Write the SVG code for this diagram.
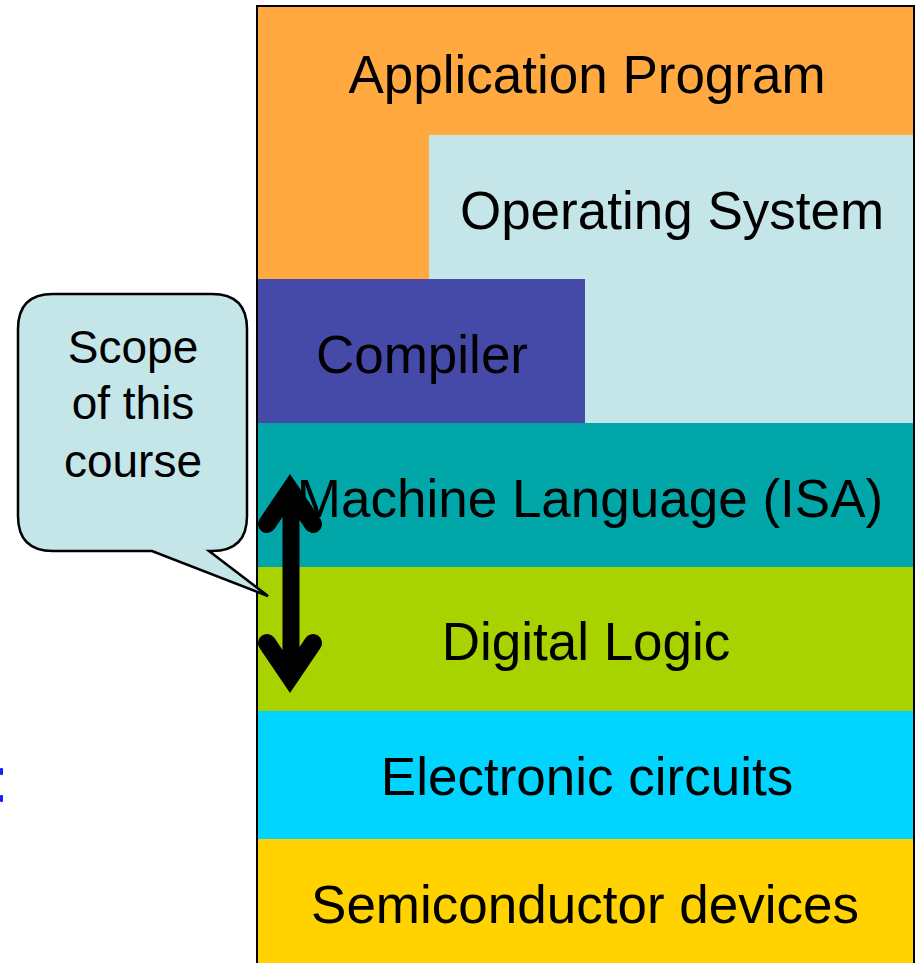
<svg xmlns="http://www.w3.org/2000/svg" width="917" height="963" viewBox="0 0 917 963">
<style>
.lbl{font-family:"Liberation Sans",Arial,sans-serif;font-size:53px;fill:#000;text-anchor:middle}
.call{font-family:"Liberation Sans",Arial,sans-serif;font-size:46px;fill:#000;text-anchor:middle}
</style>
<rect width="917" height="963" fill="#fff"/>
<g id="app"><rect x="258" y="6" width="656" height="130" fill="#FFA940"/><rect x="258" y="135" width="171" height="145" fill="#FFA940"/><text class="lbl" x="587" y="93">Application Program</text></g>
<g id="os"><rect x="429" y="135" width="485" height="145" fill="#C4E6E8"/><rect x="585" y="279" width="329" height="145" fill="#C4E6E8"/><text class="lbl" x="672" y="229">Operating System</text></g>
<g id="compiler"><rect x="258" y="279" width="327" height="145" fill="#4549A8"/><text class="lbl" x="422" y="373">Compiler</text></g>
<g id="isa"><rect x="258" y="423" width="656" height="145" fill="#00A6A8"/><text class="lbl" x="590" y="517">Machine Language (ISA)</text></g>
<g id="logic"><rect x="258" y="567" width="656" height="145" fill="#A8D200"/><text class="lbl" x="586" y="660">Digital Logic</text></g>
<g id="circuits"><rect x="258" y="711" width="656" height="129" fill="#00D4FF"/><text class="lbl" x="587" y="795">Electronic circuits</text></g>
<g id="semi"><rect x="258" y="839" width="656" height="130" fill="#FFD200"/><text class="lbl" x="585" y="923">Semiconductor devices</text></g>
<rect x="257" y="6" width="657" height="970" fill="none" stroke="#000" stroke-width="2"/>
<g id="callout"><path d="M53,294 H212 Q247,294 247,329 V516 Q247,551 212,551 H209 L268,596 L152,551 H53 Q18,551 18,516 V329 Q18,294 53,294 Z" fill="#C4E6E8" stroke="#000" stroke-width="2.5" stroke-linejoin="miter"/>
<text class="call" x="133" y="363">Scope</text><text class="call" x="133" y="419">of this</text><text class="call" x="133" y="477">course</text></g>
<g id="connectors" fill="none" stroke="#000" stroke-width="18">
<path d="M291,495 V672" stroke-width="17"/>
<path d="M267,524 L290,490 L313,524" stroke-linecap="round" stroke-linejoin="miter"/>
<path d="M267,643 L290,677 L313,643" stroke-linecap="round" stroke-linejoin="miter"/>
</g>
<g id="marks" fill="#1a1aff"><rect x="0" y="768" width="3" height="7" rx="1"/><rect x="0" y="795" width="3" height="7" rx="1"/></g>
</svg>
